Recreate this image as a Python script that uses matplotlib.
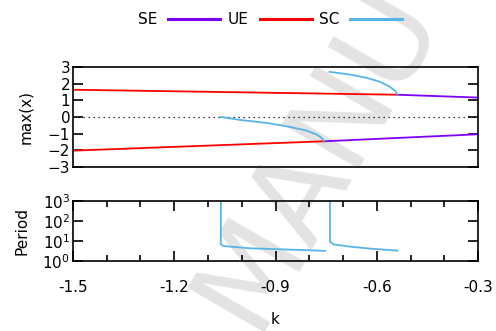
import matplotlib
matplotlib.use("Agg")
import matplotlib.pyplot as plt
from matplotlib.ticker import MultipleLocator, FixedLocator

# stable / unstable equilibria branches (k, max(x))
se_up_k = [-0.539, -0.3]
se_up_x = [1.33, 1.16]
se_lo_k = [-0.756, -0.3]
se_lo_x = [-1.46, -1.04]
ue_up_k = [-1.5, -0.539]
ue_up_x = [1.63, 1.33]
ue_lo_k = [-1.5, -0.756]
ue_lo_x = [-2.02, -1.46]

# stable cycles
sc_up_k = [-0.740, -0.679, -0.630, -0.590, -0.561, -0.546, -0.539]
sc_up_x = [2.70, 2.54, 2.34, 2.10, 1.80, 1.56, 1.33]
sc_lo_k = [-1.062, -1.005, -0.926, -0.857, -0.808, -0.778, -0.763, -0.756]
sc_lo_x = [0.0, -0.18, -0.36, -0.60, -0.82, -1.06, -1.26, -1.46]

# period of the cycles
p1_k = [-1.062, -1.062, -1.055, -0.976, -0.877, -0.753]
p1_T = [3000, 6.8, 5.6, 4.3, 3.8, 3.2]
p2_k = [-0.739, -0.739, -0.729, -0.679, -0.610, -0.539]
p2_T = [3000, 9.3, 6.8, 5.2, 4.0, 3.3]

c_se = '#8000ff'
c_ue = '#ff0000'
c_sc = '#56b4e9'
lw = 1.3

plt.rcParams['font.family'] = 'DejaVu Sans'
plt.rcParams['font.size'] = 11

fig = plt.figure(figsize=(4.96, 3.31), dpi=100)
# watermark behind the plot
fig.text(0.35, -0.04, 'MANU', rotation=60, fontsize=88, color='#e3e3e3',
         ha='left', va='bottom', zorder=-10)

ax1 = fig.add_axes([0.147, 0.4955, 0.817, 0.3025])
ax2 = fig.add_axes([0.147, 0.2115, 0.817, 0.1815])
for ax in (ax1, ax2):
    ax.set_facecolor('none')
    for s in ax.spines.values():
        s.set_linewidth(1.2)

ax1.axhline(0, color='black', lw=0.9, ls=(0, (1, 3)))
ax1.plot(ue_up_k, ue_up_x, color=c_ue, lw=lw, label='UE')
ax1.plot(ue_lo_k, ue_lo_x, color=c_ue, lw=lw)
ax1.plot(se_up_k, se_up_x, color=c_se, lw=lw, label='SE')
ax1.plot(se_lo_k, se_lo_x, color=c_se, lw=lw)
ax1.plot(sc_up_k, sc_up_x, color=c_sc, lw=lw, label='SC')
ax1.plot(sc_lo_k, sc_lo_x, color=c_sc, lw=lw)
ax1.set_xlim(-1.5, -0.3)
ax1.set_ylim(-3, 3)
ax1.yaxis.set_major_locator(MultipleLocator(1))
ax1.set_xticks([])
ax1.tick_params(axis='y', direction='in', length=7, width=1.2, right=True, pad=2)
ax1.set_ylabel('max(x)')
ax1.yaxis.set_label_coords(-0.099, 0.5)

ax2.plot(p1_k, p1_T, color=c_sc, lw=lw)
ax2.plot(p2_k, p2_T, color=c_sc, lw=lw)
ax2.set_yscale('log')
ax2.set_xlim(-1.5, -0.3)
ax2.set_ylim(1, 1000)
ax2.yaxis.set_major_locator(FixedLocator([1, 10, 100, 1000]))
ax2.yaxis.set_minor_locator(FixedLocator([]))
ax2.set_yticklabels(['$10^0$', '$10^1$', '$10^2$', '$10^3$'])
ax2.xaxis.set_minor_locator(MultipleLocator(0.1))
ax2.set_xticks([-1.5, -1.2, -0.9, -0.6, -0.3])
ax2.set_xticklabels(['-1.5', '-1.2', '-0.9', '-0.6', '-0.3'])
ax2.tick_params(which='major', direction='in', length=7, width=1.2, top=True, right=True, pad=2)
ax2.tick_params(which='minor', direction='in', length=4, width=1.2, top=True, right=True)
ax2.tick_params(axis='x', pad=14)
ax2.set_ylabel('Period')
ax2.yaxis.set_label_coords(-0.106, 0.5)
ax2.set_xlabel('k', labelpad=12)

handles, labels = ax1.get_legend_handles_labels()
order = [labels.index(n) for n in ['SE', 'UE', 'SC']]
leg = fig.legend([handles[i] for i in order], [labels[i] for i in order],
                 loc='center', bbox_to_anchor=(0.545, 0.94), ncol=3,
                 frameon=False, markerfirst=False, handlelength=3.4,
                 handletextpad=0.7, columnspacing=0.5)
for h in leg.get_lines():
    h.set_linewidth(2.2)

fig.savefig('out.png', dpi=100)
